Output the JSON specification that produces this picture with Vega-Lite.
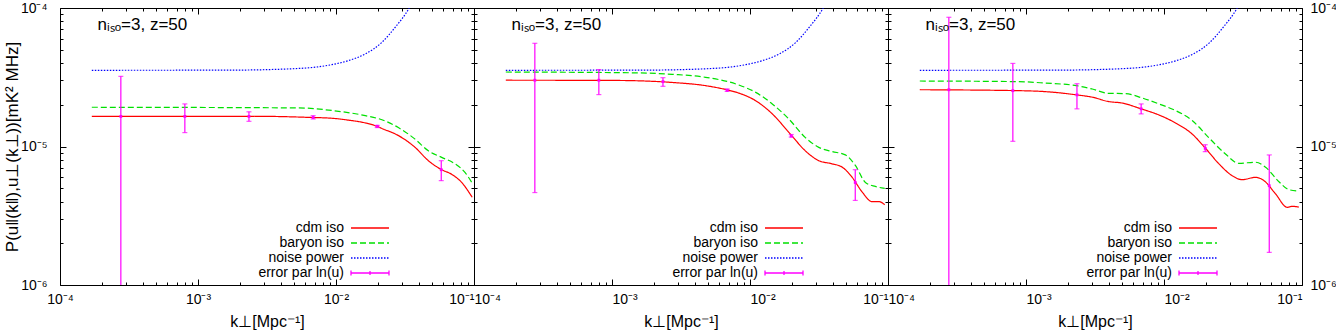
{
  "$schema": "https://vega.github.io/schema/vega-lite/v6.json",
  "padding": {"left": 2, "top": 0, "right": 0, "bottom": 0},
  "background": "white",
  "spacing": 0,
  "bounds": "flush",
  "config": {
    "font": "Liberation Sans",
    "view": {"stroke": "black", "strokeWidth": 1},
    "axis": {"domain": false, "grid": false, "tickColor": "black", "tickWidth": 1, "labelFontSize": 14, "titleFontSize": 16, "titleFontWeight": "normal", "labelColor": "black", "titleColor": "black", "labelFont": "Liberation Sans", "titleFont": "Liberation Sans"},
    "legend": {"labelFont": "Liberation Sans", "orient": "none", "legendX": 302, "legendY": 212, "symbolSize": 196, "symbolStrokeWidth": 1.3, "rowPadding": 0, "labelFontSize": 14, "labelAlign": "right", "labelOffset": -34, "labelLimit": 0, "labelColor": "black"}
  },
  "datasets": {
    "curves": [
      {"panel": 1, "series": "cdm iso", "k": 0.00017, "P": 1.65e-5},
      {"panel": 1, "series": "cdm iso", "k": 0.003, "P": 1.65e-5},
      {"panel": 1, "series": "cdm iso", "k": 0.00668, "P": 1.62e-5},
      {"panel": 1, "series": "cdm iso", "k": 0.00933, "P": 1.60e-5},
      {"panel": 1, "series": "cdm iso", "k": 0.0123, "P": 1.55e-5},
      {"panel": 1, "series": "cdm iso", "k": 0.0163, "P": 1.48e-5},
      {"panel": 1, "series": "cdm iso", "k": 0.0198, "P": 1.40e-5},
      {"panel": 1, "series": "cdm iso", "k": 0.0215, "P": 1.35e-5},
      {"panel": 1, "series": "cdm iso", "k": 0.0283, "P": 1.20e-5},
      {"panel": 1, "series": "cdm iso", "k": 0.0374, "P": 9.86e-6},
      {"panel": 1, "series": "cdm iso", "k": 0.0467, "P": 7.9e-6},
      {"panel": 1, "series": "cdm iso", "k": 0.0583, "P": 6.8e-6},
      {"panel": 1, "series": "cdm iso", "k": 0.0689, "P": 6.3e-6},
      {"panel": 1, "series": "cdm iso", "k": 0.0814, "P": 5.5e-6},
      {"panel": 1, "series": "cdm iso", "k": 0.097, "P": 4.3e-6},
      {"panel": 1, "series": "baryon iso", "k": 0.00017, "P": 1.92e-5},
      {"panel": 1, "series": "baryon iso", "k": 0.00536, "P": 1.90e-5},
      {"panel": 1, "series": "baryon iso", "k": 0.00933, "P": 1.82e-5},
      {"panel": 1, "series": "baryon iso", "k": 0.0163, "P": 1.67e-5},
      {"panel": 1, "series": "baryon iso", "k": 0.0215, "P": 1.56e-5},
      {"panel": 1, "series": "baryon iso", "k": 0.0283, "P": 1.37e-5},
      {"panel": 1, "series": "baryon iso", "k": 0.0374, "P": 1.13e-5},
      {"panel": 1, "series": "baryon iso", "k": 0.0467, "P": 9.3e-6},
      {"panel": 1, "series": "baryon iso", "k": 0.0583, "P": 8.35e-6},
      {"panel": 1, "series": "baryon iso", "k": 0.0728, "P": 7.5e-6},
      {"panel": 1, "series": "baryon iso", "k": 0.086, "P": 6.5e-6},
      {"panel": 1, "series": "baryon iso", "k": 0.097, "P": 5.45e-6},
      {"panel": 1, "series": "noise power", "k": 0.00017, "P": 3.55e-5},
      {"panel": 1, "series": "noise power", "k": 0.00177, "P": 3.56e-5},
      {"panel": 1, "series": "noise power", "k": 0.00536, "P": 3.66e-5},
      {"panel": 1, "series": "noise power", "k": 0.00933, "P": 3.90e-5},
      {"panel": 1, "series": "noise power", "k": 0.0123, "P": 4.17e-5},
      {"panel": 1, "series": "noise power", "k": 0.0163, "P": 4.66e-5},
      {"panel": 1, "series": "noise power", "k": 0.0215, "P": 5.65e-5},
      {"panel": 1, "series": "noise power", "k": 0.0268, "P": 7.24e-5},
      {"panel": 1, "series": "noise power", "k": 0.0339, "P": 1.0e-4},
      {"panel": 1, "series": "noise power", "k": 0.04, "P": 1.4e-4},
      {"panel": 2, "series": "cdm iso", "k": 0.00017, "P": 3.01e-5},
      {"panel": 2, "series": "cdm iso", "k": 0.001, "P": 3.0e-5},
      {"panel": 2, "series": "cdm iso", "k": 0.00157, "P": 2.98e-5},
      {"panel": 2, "series": "cdm iso", "k": 0.00273, "P": 2.90e-5},
      {"panel": 2, "series": "cdm iso", "k": 0.00476, "P": 2.75e-5},
      {"panel": 2, "series": "cdm iso", "k": 0.00687, "P": 2.56e-5},
      {"panel": 2, "series": "cdm iso", "k": 0.0083, "P": 2.43e-5},
      {"panel": 2, "series": "cdm iso", "k": 0.011, "P": 2.14e-5},
      {"panel": 2, "series": "cdm iso", "k": 0.0145, "P": 1.72e-5},
      {"panel": 2, "series": "cdm iso", "k": 0.020, "P": 1.20e-5},
      {"panel": 2, "series": "cdm iso", "k": 0.0252, "P": 9.3e-6},
      {"panel": 2, "series": "cdm iso", "k": 0.0315, "P": 7.9e-6},
      {"panel": 2, "series": "cdm iso", "k": 0.0393, "P": 7.5e-6},
      {"panel": 2, "series": "cdm iso", "k": 0.0465, "P": 7.1e-6},
      {"panel": 2, "series": "cdm iso", "k": 0.0549, "P": 6.0e-6},
      {"panel": 2, "series": "cdm iso", "k": 0.0649, "P": 4.7e-6},
      {"panel": 2, "series": "cdm iso", "k": 0.0766, "P": 4.0e-6},
      {"panel": 2, "series": "cdm iso", "k": 0.0857, "P": 4.0e-6},
      {"panel": 2, "series": "cdm iso", "k": 0.0947, "P": 3.8e-6},
      {"panel": 2, "series": "baryon iso", "k": 0.00017, "P": 3.45e-5},
      {"panel": 2, "series": "baryon iso", "k": 0.00157, "P": 3.40e-5},
      {"panel": 2, "series": "baryon iso", "k": 0.00273, "P": 3.32e-5},
      {"panel": 2, "series": "baryon iso", "k": 0.00476, "P": 3.16e-5},
      {"panel": 2, "series": "baryon iso", "k": 0.0083, "P": 2.78e-5},
      {"panel": 2, "series": "baryon iso", "k": 0.011, "P": 2.46e-5},
      {"panel": 2, "series": "baryon iso", "k": 0.0145, "P": 2.03e-5},
      {"panel": 2, "series": "baryon iso", "k": 0.0191, "P": 1.58e-5},
      {"panel": 2, "series": "baryon iso", "k": 0.0252, "P": 1.16e-5},
      {"panel": 2, "series": "baryon iso", "k": 0.0315, "P": 9.86e-6},
      {"panel": 2, "series": "baryon iso", "k": 0.0393, "P": 9.2e-6},
      {"panel": 2, "series": "baryon iso", "k": 0.0491, "P": 8.7e-6},
      {"panel": 2, "series": "baryon iso", "k": 0.058, "P": 7.3e-6},
      {"panel": 2, "series": "baryon iso", "k": 0.0686, "P": 5.5e-6},
      {"panel": 2, "series": "baryon iso", "k": 0.0809, "P": 5.15e-6},
      {"panel": 2, "series": "baryon iso", "k": 0.0947, "P": 4.99e-6},
      {"panel": 2, "series": "noise power", "k": 0.00017, "P": 3.55e-5},
      {"panel": 2, "series": "noise power", "k": 0.00177, "P": 3.56e-5},
      {"panel": 2, "series": "noise power", "k": 0.00536, "P": 3.66e-5},
      {"panel": 2, "series": "noise power", "k": 0.00933, "P": 3.90e-5},
      {"panel": 2, "series": "noise power", "k": 0.0123, "P": 4.17e-5},
      {"panel": 2, "series": "noise power", "k": 0.0163, "P": 4.66e-5},
      {"panel": 2, "series": "noise power", "k": 0.0215, "P": 5.65e-5},
      {"panel": 2, "series": "noise power", "k": 0.0268, "P": 7.24e-5},
      {"panel": 2, "series": "noise power", "k": 0.0339, "P": 1.0e-4},
      {"panel": 2, "series": "noise power", "k": 0.04, "P": 1.4e-4},
      {"panel": 3, "series": "cdm iso", "k": 0.00017, "P": 2.57e-5},
      {"panel": 3, "series": "cdm iso", "k": 0.000887, "P": 2.53e-5},
      {"panel": 3, "series": "cdm iso", "k": 0.00138, "P": 2.49e-5},
      {"panel": 3, "series": "cdm iso", "k": 0.00232, "P": 2.36e-5},
      {"panel": 3, "series": "cdm iso", "k": 0.00302, "P": 2.27e-5},
      {"panel": 3, "series": "cdm iso", "k": 0.00398, "P": 2.11e-5},
      {"panel": 3, "series": "cdm iso", "k": 0.00497, "P": 2.06e-5},
      {"panel": 3, "series": "cdm iso", "k": 0.00683, "P": 1.87e-5},
      {"panel": 3, "series": "cdm iso", "k": 0.00918, "P": 1.69e-5},
      {"panel": 3, "series": "cdm iso", "k": 0.0121, "P": 1.48e-5},
      {"panel": 3, "series": "cdm iso", "k": 0.016, "P": 1.23e-5},
      {"panel": 3, "series": "cdm iso", "k": 0.020, "P": 9.7e-6},
      {"panel": 3, "series": "cdm iso", "k": 0.025, "P": 7.5e-6},
      {"panel": 3, "series": "cdm iso", "k": 0.0312, "P": 6.15e-6},
      {"panel": 3, "series": "cdm iso", "k": 0.0369, "P": 5.76e-6},
      {"panel": 3, "series": "cdm iso", "k": 0.0461, "P": 5.99e-6},
      {"panel": 3, "series": "cdm iso", "k": 0.053, "P": 5.67e-6},
      {"panel": 3, "series": "cdm iso", "k": 0.0644, "P": 4.54e-6},
      {"panel": 3, "series": "cdm iso", "k": 0.0782, "P": 3.64e-6},
      {"panel": 3, "series": "cdm iso", "k": 0.0851, "P": 3.7e-6},
      {"panel": 3, "series": "cdm iso", "k": 0.095, "P": 3.65e-6},
      {"panel": 3, "series": "baryon iso", "k": 0.00017, "P": 2.97e-5},
      {"panel": 3, "series": "baryon iso", "k": 0.000887, "P": 2.94e-5},
      {"panel": 3, "series": "baryon iso", "k": 0.00138, "P": 2.87e-5},
      {"panel": 3, "series": "baryon iso", "k": 0.00232, "P": 2.75e-5},
      {"panel": 3, "series": "baryon iso", "k": 0.00302, "P": 2.60e-5},
      {"panel": 3, "series": "baryon iso", "k": 0.00398, "P": 2.42e-5},
      {"panel": 3, "series": "baryon iso", "k": 0.00526, "P": 2.41e-5},
      {"panel": 3, "series": "baryon iso", "k": 0.00695, "P": 2.24e-5},
      {"panel": 3, "series": "baryon iso", "k": 0.00918, "P": 2.03e-5},
      {"panel": 3, "series": "baryon iso", "k": 0.0121, "P": 1.82e-5},
      {"panel": 3, "series": "baryon iso", "k": 0.016, "P": 1.54e-5},
      {"panel": 3, "series": "baryon iso", "k": 0.0211, "P": 1.16e-5},
      {"panel": 3, "series": "baryon iso", "k": 0.0279, "P": 8.83e-6},
      {"panel": 3, "series": "baryon iso", "k": 0.0349, "P": 7.56e-6},
      {"panel": 3, "series": "baryon iso", "k": 0.0461, "P": 7.7e-6},
      {"panel": 3, "series": "baryon iso", "k": 0.0545, "P": 7.08e-6},
      {"panel": 3, "series": "baryon iso", "k": 0.0681, "P": 5.57e-6},
      {"panel": 3, "series": "baryon iso", "k": 0.0803, "P": 4.88e-6},
      {"panel": 3, "series": "baryon iso", "k": 0.095, "P": 4.77e-6},
      {"panel": 3, "series": "noise power", "k": 0.00017, "P": 3.55e-5},
      {"panel": 3, "series": "noise power", "k": 0.00177, "P": 3.56e-5},
      {"panel": 3, "series": "noise power", "k": 0.00536, "P": 3.66e-5},
      {"panel": 3, "series": "noise power", "k": 0.00933, "P": 3.90e-5},
      {"panel": 3, "series": "noise power", "k": 0.0123, "P": 4.17e-5},
      {"panel": 3, "series": "noise power", "k": 0.0163, "P": 4.66e-5},
      {"panel": 3, "series": "noise power", "k": 0.0215, "P": 5.65e-5},
      {"panel": 3, "series": "noise power", "k": 0.0268, "P": 7.24e-5},
      {"panel": 3, "series": "noise power", "k": 0.0339, "P": 1.0e-4},
      {"panel": 3, "series": "noise power", "k": 0.04, "P": 1.4e-4}
    ],
    "errs": [
      {"panel": 1, "k": 0.000276, "lo": 5e-7, "mid": 1.65e-5, "hi": 3.21e-5},
      {"panel": 1, "k": 0.000803, "lo": 1.26e-5, "mid": 1.65e-5, "hi": 2.03e-5},
      {"panel": 1, "k": 0.00234, "lo": 1.52e-5, "mid": 1.65e-5, "hi": 1.78e-5},
      {"panel": 1, "k": 0.00683, "lo": 1.58e-5, "mid": 1.62e-5, "hi": 1.67e-5},
      {"panel": 1, "k": 0.0199, "lo": 1.37e-5, "mid": 1.40e-5, "hi": 1.42e-5},
      {"panel": 1, "k": 0.0579, "lo": 5.67e-6, "mid": 6.8e-6, "hi": 7.9e-6},
      {"panel": 2, "k": 0.000276, "lo": 4.65e-6, "mid": 3.01e-5, "hi": 5.56e-5},
      {"panel": 2, "k": 0.000803, "lo": 2.37e-5, "mid": 3.01e-5, "hi": 3.59e-5},
      {"panel": 2, "k": 0.00234, "lo": 2.72e-5, "mid": 2.94e-5, "hi": 3.14e-5},
      {"panel": 2, "k": 0.00683, "lo": 2.50e-5, "mid": 2.55e-5, "hi": 2.60e-5},
      {"panel": 2, "k": 0.0199, "lo": 1.17e-5, "mid": 1.19e-5, "hi": 1.22e-5},
      {"panel": 2, "k": 0.0579, "lo": 4.08e-6, "mid": 5.5e-6, "hi": 6.8e-6},
      {"panel": 3, "k": 0.000276, "lo": 5e-7, "mid": 2.57e-5, "hi": 8.57e-5},
      {"panel": 3, "k": 0.000803, "lo": 1.09e-5, "mid": 2.53e-5, "hi": 3.98e-5},
      {"panel": 3, "k": 0.00234, "lo": 1.87e-5, "mid": 2.36e-5, "hi": 2.84e-5},
      {"panel": 3, "k": 0.00683, "lo": 1.72e-5, "mid": 1.87e-5, "hi": 2.03e-5},
      {"panel": 3, "k": 0.0199, "lo": 9.18e-6, "mid": 9.7e-6, "hi": 1.03e-5},
      {"panel": 3, "k": 0.0579, "lo": 1.72e-6, "mid": 5.21e-6, "hi": 8.69e-6}
    ]
  },
  "resolve": {"scale": {"color": "independent", "strokeDash": "independent"}},
  "hconcat": [
    {
      "width": 414, "height": 277,
      "resolve": {"axis": {"x": "independent", "y": "independent"}},
      "layer": [
        {
          "data": {"name": "curves"},
          "transform": [{"filter": "datum.panel == 1"}],
          "mark": {"type": "line", "clip": true, "interpolate": "monotone", "strokeWidth": 1.2},
          "encoding": {
            "x": {"field": "k", "type": "quantitative", "scale": {"type": "log", "domain": [0.0001, 0.1], "nice": false},
              "axis": {"orient": "bottom", "values": [0.0001,0.0002,0.0003,0.0004,0.0005,0.0006,0.0007,0.0008,0.0009,0.001,0.002,0.003,0.004,0.005,0.006,0.007,0.008,0.009,0.01,0.02,0.03,0.04,0.05,0.06,0.07,0.08,0.09,0.1],
                "labelExpr": "abs(log(datum.value)/LN10 - round(log(datum.value)/LN10)) < 0.01 ? ['10⁻⁶','10⁻⁵','10⁻⁴','10⁻³','10⁻²','10⁻¹'][round(log(datum.value)/LN10)+6] : ''",
                "tickSize": {"condition": {"test": "abs(log(datum.value)/LN10 - round(log(datum.value)/LN10)) < 0.01", "value": -6}, "value": -3},
                "labelAlign": {"condition": {"test": "datum.value > 0.05", "value": "right"}, "value": "center"},
                "labelPadding": 13, "labelFlush": false, "labelOverlap": false, "title": "k⊥[Mpc⁻¹]", "titlePadding": 4}},
            "y": {"field": "P", "type": "quantitative", "scale": {"type": "log", "domain": [0.000001, 0.0001], "nice": false},
              "axis": {"orient": "left", "values": [0.000001,0.000002,0.000003,0.000004,0.000005,0.000006,0.000007,0.000008,0.000009,0.00001,0.00002,0.00003,0.00004,0.00005,0.00006,0.00007,0.00008,0.00009,0.0001],
                "labelExpr": "abs(log(datum.value)/LN10 - round(log(datum.value)/LN10)) < 0.01 ? ['10⁻⁶','10⁻⁵','10⁻⁴','10⁻³','10⁻²','10⁻¹'][round(log(datum.value)/LN10)+6] : ''",
                "tickSize": {"condition": {"test": "abs(log(datum.value)/LN10 - round(log(datum.value)/LN10)) < 0.01", "value": -6}, "value": -3},
                "labelPadding": 19, "labelOverlap": false, "title": "P(u‖(k‖),u⊥(k⊥))[mK² MHz]", "titleFontSize": 17, "titlePadding": -1}},
            "color": {"field": "series", "type": "nominal",
              "scale": {"domain": ["cdm iso", "baryon iso", "noise power", "error par ln(u)"], "range": ["#ff0000", "#00e000", "#0000ff", "#ff00ff"]},
              "legend": {"title": null,
                "encode": {"symbols": {"update": {
                  "shape": {"signal": "datum.value === 'error par ln(u)' ? 'M-2.714,0H2.714M-2.714,-0.35V0.35M2.714,-0.35V0.35M0,-0.3V0.3' : 'M-2.714,0H2.714'"},
                  "strokeDash": {"signal": "datum.value === 'baryon iso' ? [6,3] : datum.value === 'noise power' ? [1.5,1.5] : [1,0]"}}}}}},
            "strokeDash": {"field": "series", "type": "nominal", "scale": {"domain": ["cdm iso", "baryon iso", "noise power", "error par ln(u)"], "range": [[1,0],[6,3],[1.5,1.5],[1,0]]}, "legend": null}
          }
        },
        {
          "data": {"name": "errs"},
          "transform": [{"filter": "datum.panel == 1"}],
          "mark": {"type": "rule", "color": "#ff00ff", "clip": true, "strokeWidth": 1.2},
          "encoding": {
            "x": {"field": "k", "type": "quantitative",
              "axis": {"orient": "top", "values": [0.0001,0.0002,0.0003,0.0004,0.0005,0.0006,0.0007,0.0008,0.0009,0.001,0.002,0.003,0.004,0.005,0.006,0.007,0.008,0.009,0.01,0.02,0.03,0.04,0.05,0.06,0.07,0.08,0.09,0.1],
                "labels": false, "title": null,
                "tickSize": {"condition": {"test": "abs(log(datum.value)/LN10 - round(log(datum.value)/LN10)) < 0.01", "value": -6}, "value": -3}}},
            "y": {"field": "lo", "type": "quantitative",
              "axis": {"orient": "right", "values": [0.000001,0.000002,0.000003,0.000004,0.000005,0.000006,0.000007,0.000008,0.000009,0.00001,0.00002,0.00003,0.00004,0.00005,0.00006,0.00007,0.00008,0.00009,0.0001],
                "labels": false, "title": null,
                "tickSize": {"condition": {"test": "abs(log(datum.value)/LN10 - round(log(datum.value)/LN10)) < 0.01", "value": -6}, "value": -3}}},
            "y2": {"field": "hi"}
          }
        },
        {
          "data": {"name": "errs"},
          "transform": [{"filter": "datum.panel == 1"}],
          "mark": {"type": "tick", "orient": "horizontal", "color": "#ff00ff", "clip": true, "size": 5, "thickness": 1.2},
          "encoding": {"x": {"field": "k", "type": "quantitative", "axis": null}, "y": {"field": "hi", "type": "quantitative", "axis": null}}
        },
        {
          "data": {"name": "errs"},
          "transform": [{"filter": "datum.panel == 1"}],
          "mark": {"type": "tick", "orient": "horizontal", "color": "#ff00ff", "clip": true, "size": 5, "thickness": 1.2},
          "encoding": {"x": {"field": "k", "type": "quantitative", "axis": null}, "y": {"field": "lo", "type": "quantitative", "axis": null}}
        },
        {
          "data": {"name": "errs"},
          "transform": [{"filter": "datum.panel == 1"}],
          "mark": {"type": "point", "shape": "square", "filled": true, "color": "#ff00ff", "opacity": 1, "size": 8, "clip": true},
          "encoding": {"x": {"field": "k", "type": "quantitative", "axis": null}, "y": {"field": "mid", "type": "quantitative", "axis": null}}
        },
        {
          "data": {"values": [{}]},
          "mark": {"type": "text", "align": "left", "baseline": "alphabetic", "fontSize": 17, "font": "Liberation Sans", "color": "black"},
          "encoding": {"x": {"datum": 0.000187, "type": "quantitative", "axis": null}, "y": {"datum": 0.0000694, "type": "quantitative", "axis": null}, "text": {"value": "nᵢₛₒ=3, z=50"}}
        }
      ]
    },
    {
      "width": 414, "height": 277,
      "resolve": {"axis": {"x": "independent", "y": "independent"}},
      "layer": [
        {
          "data": {"name": "curves"},
          "transform": [{"filter": "datum.panel == 2"}],
          "mark": {"type": "line", "clip": true, "interpolate": "monotone", "strokeWidth": 1.2},
          "encoding": {
            "x": {"field": "k", "type": "quantitative", "scale": {"type": "log", "domain": [0.0001, 0.1], "nice": false},
              "axis": {"orient": "bottom", "values": [0.0001,0.0002,0.0003,0.0004,0.0005,0.0006,0.0007,0.0008,0.0009,0.001,0.002,0.003,0.004,0.005,0.006,0.007,0.008,0.009,0.01,0.02,0.03,0.04,0.05,0.06,0.07,0.08,0.09,0.1],
                "labelExpr": "abs(log(datum.value)/LN10 - round(log(datum.value)/LN10)) < 0.01 ? ['10⁻⁶','10⁻⁵','10⁻⁴','10⁻³','10⁻²','10⁻¹'][round(log(datum.value)/LN10)+6] : ''",
                "tickSize": {"condition": {"test": "abs(log(datum.value)/LN10 - round(log(datum.value)/LN10)) < 0.01", "value": -6}, "value": -3},
                "labelAlign": {"condition": {"test": "datum.value > 0.05", "value": "right"}, "value": {"expr": "datum.value < 0.00015 ? 'left' : 'center'"}},
                "labelPadding": 13, "labelFlush": false, "labelOverlap": false, "title": "k⊥[Mpc⁻¹]", "titlePadding": 4}},
            "y": {"field": "P", "type": "quantitative", "scale": {"type": "log", "domain": [0.000001, 0.0001], "nice": false},
              "axis": {"orient": "left", "values": [0.000001,0.000002,0.000003,0.000004,0.000005,0.000006,0.000007,0.000008,0.000009,0.00001,0.00002,0.00003,0.00004,0.00005,0.00006,0.00007,0.00008,0.00009,0.0001],
                "labels": false, "title": null,
                "tickSize": {"condition": {"test": "abs(log(datum.value)/LN10 - round(log(datum.value)/LN10)) < 0.01", "value": -6}, "value": -3}}},
            "color": {"field": "series", "type": "nominal",
              "scale": {"domain": ["cdm iso", "baryon iso", "noise power", "error par ln(u)"], "range": ["#ff0000", "#00e000", "#0000ff", "#ff00ff"]},
              "legend": {"title": null,
                "encode": {"symbols": {"update": {
                  "shape": {"signal": "datum.value === 'error par ln(u)' ? 'M-2.714,0H2.714M-2.714,-0.35V0.35M2.714,-0.35V0.35M0,-0.3V0.3' : 'M-2.714,0H2.714'"},
                  "strokeDash": {"signal": "datum.value === 'baryon iso' ? [6,3] : datum.value === 'noise power' ? [1.5,1.5] : [1,0]"}}}}}},
            "strokeDash": {"field": "series", "type": "nominal", "scale": {"domain": ["cdm iso", "baryon iso", "noise power", "error par ln(u)"], "range": [[1,0],[6,3],[1.5,1.5],[1,0]]}, "legend": null}
          }
        },
        {
          "data": {"name": "errs"},
          "transform": [{"filter": "datum.panel == 2"}],
          "mark": {"type": "rule", "color": "#ff00ff", "clip": true, "strokeWidth": 1.2},
          "encoding": {
            "x": {"field": "k", "type": "quantitative",
              "axis": {"orient": "top", "values": [0.0001,0.0002,0.0003,0.0004,0.0005,0.0006,0.0007,0.0008,0.0009,0.001,0.002,0.003,0.004,0.005,0.006,0.007,0.008,0.009,0.01,0.02,0.03,0.04,0.05,0.06,0.07,0.08,0.09,0.1],
                "labels": false, "title": null,
                "tickSize": {"condition": {"test": "abs(log(datum.value)/LN10 - round(log(datum.value)/LN10)) < 0.01", "value": -6}, "value": -3}}},
            "y": {"field": "lo", "type": "quantitative",
              "axis": {"orient": "right", "values": [0.000001,0.000002,0.000003,0.000004,0.000005,0.000006,0.000007,0.000008,0.000009,0.00001,0.00002,0.00003,0.00004,0.00005,0.00006,0.00007,0.00008,0.00009,0.0001],
                "labels": false, "title": null,
                "tickSize": {"condition": {"test": "abs(log(datum.value)/LN10 - round(log(datum.value)/LN10)) < 0.01", "value": -6}, "value": -3}}},
            "y2": {"field": "hi"}
          }
        },
        {
          "data": {"name": "errs"},
          "transform": [{"filter": "datum.panel == 2"}],
          "mark": {"type": "tick", "orient": "horizontal", "color": "#ff00ff", "clip": true, "size": 5, "thickness": 1.2},
          "encoding": {"x": {"field": "k", "type": "quantitative", "axis": null}, "y": {"field": "hi", "type": "quantitative", "axis": null}}
        },
        {
          "data": {"name": "errs"},
          "transform": [{"filter": "datum.panel == 2"}],
          "mark": {"type": "tick", "orient": "horizontal", "color": "#ff00ff", "clip": true, "size": 5, "thickness": 1.2},
          "encoding": {"x": {"field": "k", "type": "quantitative", "axis": null}, "y": {"field": "lo", "type": "quantitative", "axis": null}}
        },
        {
          "data": {"name": "errs"},
          "transform": [{"filter": "datum.panel == 2"}],
          "mark": {"type": "point", "shape": "square", "filled": true, "color": "#ff00ff", "opacity": 1, "size": 8, "clip": true},
          "encoding": {"x": {"field": "k", "type": "quantitative", "axis": null}, "y": {"field": "mid", "type": "quantitative", "axis": null}}
        },
        {
          "data": {"values": [{}]},
          "mark": {"type": "text", "align": "left", "baseline": "alphabetic", "fontSize": 17, "font": "Liberation Sans", "color": "black"},
          "encoding": {"x": {"datum": 0.000187, "type": "quantitative", "axis": null}, "y": {"datum": 0.0000694, "type": "quantitative", "axis": null}, "text": {"value": "nᵢₛₒ=3, z=50"}}
        }
      ]
    },
    {
      "width": 414, "height": 277,
      "resolve": {"axis": {"x": "independent", "y": "independent"}},
      "layer": [
        {
          "data": {"name": "curves"},
          "transform": [{"filter": "datum.panel == 3"}],
          "mark": {"type": "line", "clip": true, "interpolate": "monotone", "strokeWidth": 1.2},
          "encoding": {
            "x": {"field": "k", "type": "quantitative", "scale": {"type": "log", "domain": [0.0001, 0.1], "nice": false},
              "axis": {"orient": "bottom", "values": [0.0001,0.0002,0.0003,0.0004,0.0005,0.0006,0.0007,0.0008,0.0009,0.001,0.002,0.003,0.004,0.005,0.006,0.007,0.008,0.009,0.01,0.02,0.03,0.04,0.05,0.06,0.07,0.08,0.09,0.1],
                "labelExpr": "abs(log(datum.value)/LN10 - round(log(datum.value)/LN10)) < 0.01 ? ['10⁻⁶','10⁻⁵','10⁻⁴','10⁻³','10⁻²','10⁻¹'][round(log(datum.value)/LN10)+6] : ''",
                "tickSize": {"condition": {"test": "abs(log(datum.value)/LN10 - round(log(datum.value)/LN10)) < 0.01", "value": -6}, "value": -3},
                "labelAlign": {"condition": {"test": "datum.value > 0.05", "value": "right"}, "value": {"expr": "datum.value < 0.00015 ? 'left' : 'center'"}},
                "labelPadding": 13, "labelFlush": false, "labelOverlap": false, "title": "k⊥[Mpc⁻¹]", "titlePadding": 4}},
            "y": {"field": "P", "type": "quantitative", "scale": {"type": "log", "domain": [0.000001, 0.0001], "nice": false},
              "axis": {"orient": "left", "values": [0.000001,0.000002,0.000003,0.000004,0.000005,0.000006,0.000007,0.000008,0.000009,0.00001,0.00002,0.00003,0.00004,0.00005,0.00006,0.00007,0.00008,0.00009,0.0001],
                "labels": false, "title": null,
                "tickSize": {"condition": {"test": "abs(log(datum.value)/LN10 - round(log(datum.value)/LN10)) < 0.01", "value": -6}, "value": -3}}},
            "color": {"field": "series", "type": "nominal",
              "scale": {"domain": ["cdm iso", "baryon iso", "noise power", "error par ln(u)"], "range": ["#ff0000", "#00e000", "#0000ff", "#ff00ff"]},
              "legend": {"title": null,
                "encode": {"symbols": {"update": {
                  "shape": {"signal": "datum.value === 'error par ln(u)' ? 'M-2.714,0H2.714M-2.714,-0.35V0.35M2.714,-0.35V0.35M0,-0.3V0.3' : 'M-2.714,0H2.714'"},
                  "strokeDash": {"signal": "datum.value === 'baryon iso' ? [6,3] : datum.value === 'noise power' ? [1.5,1.5] : [1,0]"}}}}}},
            "strokeDash": {"field": "series", "type": "nominal", "scale": {"domain": ["cdm iso", "baryon iso", "noise power", "error par ln(u)"], "range": [[1,0],[6,3],[1.5,1.5],[1,0]]}, "legend": null}
          }
        },
        {
          "data": {"name": "errs"},
          "transform": [{"filter": "datum.panel == 3"}],
          "mark": {"type": "rule", "color": "#ff00ff", "clip": true, "strokeWidth": 1.2},
          "encoding": {
            "x": {"field": "k", "type": "quantitative",
              "axis": {"orient": "top", "values": [0.0001,0.0002,0.0003,0.0004,0.0005,0.0006,0.0007,0.0008,0.0009,0.001,0.002,0.003,0.004,0.005,0.006,0.007,0.008,0.009,0.01,0.02,0.03,0.04,0.05,0.06,0.07,0.08,0.09,0.1],
                "labels": false, "title": null,
                "tickSize": {"condition": {"test": "abs(log(datum.value)/LN10 - round(log(datum.value)/LN10)) < 0.01", "value": -6}, "value": -3}}},
            "y": {"field": "lo", "type": "quantitative",
              "axis": {"orient": "right", "values": [0.000001,0.000002,0.000003,0.000004,0.000005,0.000006,0.000007,0.000008,0.000009,0.00001,0.00002,0.00003,0.00004,0.00005,0.00006,0.00007,0.00008,0.00009,0.0001],
                "labelExpr": "abs(log(datum.value)/LN10 - round(log(datum.value)/LN10)) < 0.01 ? ['10⁻⁶','10⁻⁵','10⁻⁴','10⁻³','10⁻²','10⁻¹'][round(log(datum.value)/LN10)+6] : ''",
                "labelPadding": 14, "labelOverlap": false, "title": null,
                "tickSize": {"condition": {"test": "abs(log(datum.value)/LN10 - round(log(datum.value)/LN10)) < 0.01", "value": -6}, "value": -3}}},
            "y2": {"field": "hi"}
          }
        },
        {
          "data": {"name": "errs"},
          "transform": [{"filter": "datum.panel == 3"}],
          "mark": {"type": "tick", "orient": "horizontal", "color": "#ff00ff", "clip": true, "size": 5, "thickness": 1.2},
          "encoding": {"x": {"field": "k", "type": "quantitative", "axis": null}, "y": {"field": "hi", "type": "quantitative", "axis": null}}
        },
        {
          "data": {"name": "errs"},
          "transform": [{"filter": "datum.panel == 3"}],
          "mark": {"type": "tick", "orient": "horizontal", "color": "#ff00ff", "clip": true, "size": 5, "thickness": 1.2},
          "encoding": {"x": {"field": "k", "type": "quantitative", "axis": null}, "y": {"field": "lo", "type": "quantitative", "axis": null}}
        },
        {
          "data": {"name": "errs"},
          "transform": [{"filter": "datum.panel == 3"}],
          "mark": {"type": "point", "shape": "square", "filled": true, "color": "#ff00ff", "opacity": 1, "size": 8, "clip": true},
          "encoding": {"x": {"field": "k", "type": "quantitative", "axis": null}, "y": {"field": "mid", "type": "quantitative", "axis": null}}
        },
        {
          "data": {"values": [{}]},
          "mark": {"type": "text", "align": "left", "baseline": "alphabetic", "fontSize": 17, "font": "Liberation Sans", "color": "black"},
          "encoding": {"x": {"datum": 0.000187, "type": "quantitative", "axis": null}, "y": {"datum": 0.0000694, "type": "quantitative", "axis": null}, "text": {"value": "nᵢₛₒ=3, z=50"}}
        }
      ]
    }
  ]
}
